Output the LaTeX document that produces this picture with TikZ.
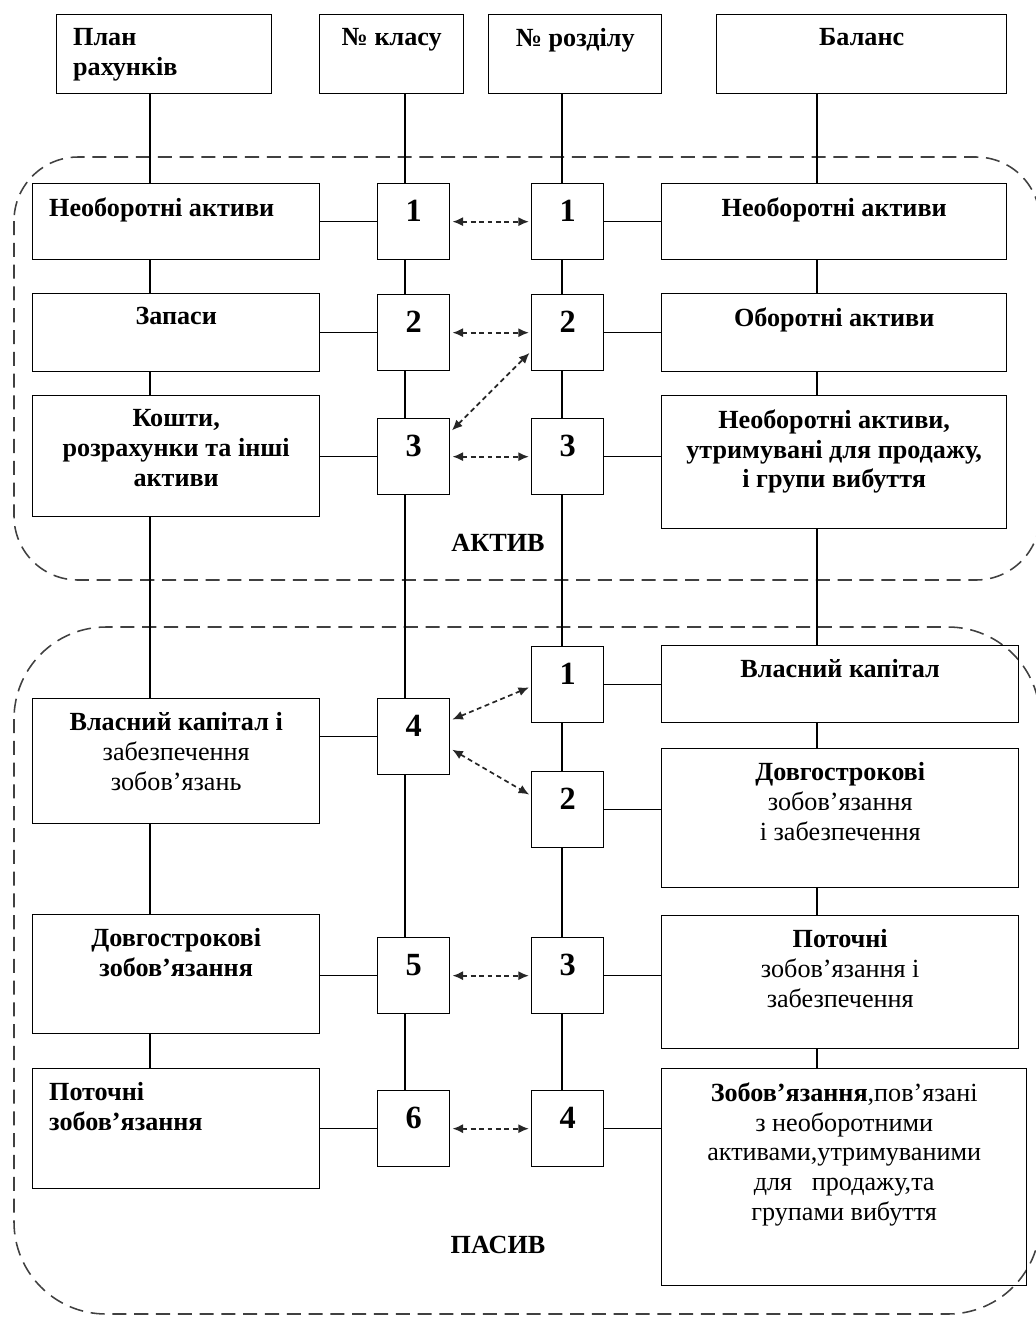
\documentclass[tikz,border=0pt]{standalone}
\usepackage{fontspec}
\setmainfont{Liberation Serif}
\usetikzlibrary{positioning,arrows.meta}
\newcommand{\pxu}{0.025cm}

\begin{document}
\begin{tikzpicture}[x=0.025cm,y=-0.025cm,
    box/.style={draw, line width=1pt, anchor=north west, inner sep=0pt},
    num/.style={box, minimum width=72*\pxu, text height=27pt, text depth=27pt,
      font=\fontsize{23}{26}\selectfont\bfseries},
    txt/.style={inner sep=0pt, align=center, font=\fontsize{18.6}{21.3}\selectfont\bfseries},
    line/.style={line width=1pt},
    group/.style={line width=1.1pt, black!75, dash pattern=on 10pt off 5.5pt},
    darr/.style={<->, >={Latex[length=7.5pt,width=6.5pt]}, line width=1.2pt, black!85,
      dash pattern=on 3.5pt off 2.5pt, shorten <=1.5pt, shorten >=1.5pt}]
    \useasboundingbox (0,0) rectangle (1036,1317);

    % AKTIV / PASYV groups
    \draw[group, rounded corners=1.6cm] (14,157) rectangle (1040,580);
    \draw[group, rounded corners=2.3cm] (14,627) rectangle (1040,1314);
    \node[txt] (aktiv) at (498,543) {АКТИВ};
    \node[txt] (pasyv) at (498,1245) {ПАСИВ};

    % headers
    \node[box, minimum width=215*\pxu, minimum height=79*\pxu] (hplan) at (56,14) {};
    \node[txt, align=left, below right=10pt and 12pt of hplan.north west] (hplant) {План\\рахунків};
    \node[box, minimum width=144*\pxu, minimum height=79*\pxu] (hclass) at (319,14) {};
    \node[txt, below=10pt of hclass.north] (hclasst) {№ класу};
    \node[box, minimum width=173*\pxu, minimum height=79*\pxu] (hsect) at (488,14) {};
    \node[txt, below=10pt of hsect.north] (hsectt) {№ розділу};
    \node[box, minimum width=290*\pxu, minimum height=79*\pxu] (hbal) at (716,14) {};
    \node[txt, below=10pt of hbal.north] (hbalt) {Баланс};

    % plan of accounts
    \node[box, minimum width=287*\pxu, minimum height=76*\pxu] (pl1) at (32,183) {};
    \node[txt, align=left, below right=10pt and 12pt of pl1.north west] (pl1t) {Необоротні активи};
    \node[box, minimum width=287*\pxu, minimum height=78*\pxu] (pl2) at (32,293) {};
    \node[txt, below=10pt of pl2.north] (pl2t) {Запаси};
    \node[box, minimum width=287*\pxu, minimum height=121*\pxu] (pl3) at (32,395) {};
    \node[txt, below=10pt of pl3.north] (pl3t) {Кошти,\\розрахунки та інші\\активи};
    \node[box, minimum width=287*\pxu, minimum height=125*\pxu] (pl4) at (32,698) {};
    \node[txt, below=10pt of pl4.north] (pl4t) {Власний капітал і\\\mdseries забезпечення\\\mdseries зобов’язань};
    \node[box, minimum width=287*\pxu, minimum height=119*\pxu] (pl5) at (32,914) {};
    \node[txt, below=10pt of pl5.north] (pl5t) {Довгострокові\\зобов’язання};
    \node[box, minimum width=287*\pxu, minimum height=120*\pxu] (pl6) at (32,1068) {};
    \node[txt, align=left, below right=10pt and 12pt of pl6.north west] (pl6t) {Поточні\\зобов’язання};

    % class numbers
    \node[num] (k1) at (377,183) {1};
    \node[num] (k2) at (377,294) {2};
    \node[num] (k3) at (377,418) {3};
    \node[num] (k4) at (377,698) {4};
    \node[num] (k5) at (377,937) {5};
    \node[num] (k6) at (377,1090) {6};

    % section numbers
    \node[num] (a1) at (531,183) {1};
    \node[num] (a2) at (531,294) {2};
    \node[num] (a3) at (531,418) {3};
    \node[num] (p1) at (531,646) {1};
    \node[num] (p2) at (531,771) {2};
    \node[num] (p3) at (531,937) {3};
    \node[num] (p4) at (531,1090) {4};

    % balance
    \node[box, minimum width=345*\pxu, minimum height=76*\pxu] (bl1) at (661,183) {};
    \node[txt, below=10pt of bl1.north] (bl1t) {Необоротні активи};
    \node[box, minimum width=345*\pxu, minimum height=78*\pxu] (bl2) at (661,293) {};
    \node[txt, below=10pt of bl2.north] (bl2t) {Оборотні активи};
    \node[box, minimum width=345*\pxu, minimum height=133*\pxu] (bl3) at (661,395) {};
    \node[txt, below=10pt of bl3.north] (bl3t) {Необоротні активи,\\утримувані для продажу,\\і групи вибуття};
    \node[box, minimum width=357*\pxu, minimum height=77*\pxu] (bl4) at (661,645) {};
    \node[txt, below=10pt of bl4.north] (bl4t) {Власний капітал};
    \node[box, minimum width=357*\pxu, minimum height=139*\pxu] (bl5) at (661,748) {};
    \node[txt, below=10pt of bl5.north] (bl5t) {Довгострокові\\\mdseries зобов’язання\\\mdseries і забезпечення};
    \node[box, minimum width=357*\pxu, minimum height=133*\pxu] (bl6) at (661,915) {};
    \node[txt, below=10pt of bl6.north] (bl6t) {Поточні\\\mdseries зобов’язання і\\\mdseries забезпечення};
    \node[box, minimum width=365*\pxu, minimum height=217*\pxu] (bl7) at (661,1068) {};
    \node[txt, below=10pt of bl7.north] (bl7t) {Зобов’язання\mdseries,пов’язані\\\mdseries з необоротними\\\mdseries активами,утримуваними\\\mdseries для~~~продажу,та\\\mdseries групами вибуття};

    % vertical lines
    \coordinate (colL) at (150,0);
    \coordinate (colK) at (405,0);
    \coordinate (colS) at (562,0);
    \coordinate (colB) at (817,0);
    \draw[line] (hplan.south -| colL) -- (pl1.north -| colL)
      (pl1.south -| colL) -- (pl2.north -| colL)
      (pl2.south -| colL) -- (pl3.north -| colL)
      (pl3.south -| colL) -- (pl4.north -| colL)
      (pl4.south -| colL) -- (pl5.north -| colL)
      (pl5.south -| colL) -- (pl6.north -| colL);
    \draw[line] (hclass.south -| colK) -- (k1.north -| colK)
      (k1.south -| colK) -- (k2.north -| colK)
      (k2.south -| colK) -- (k3.north -| colK)
      (k3.south -| colK) -- (k4.north -| colK)
      (k4.south -| colK) -- (k5.north -| colK)
      (k5.south -| colK) -- (k6.north -| colK);
    \draw[line] (hsect.south -| colS) -- (a1.north -| colS)
      (a1.south -| colS) -- (a2.north -| colS)
      (a2.south -| colS) -- (a3.north -| colS)
      (a3.south -| colS) -- (p1.north -| colS)
      (p1.south -| colS) -- (p2.north -| colS)
      (p2.south -| colS) -- (p3.north -| colS)
      (p3.south -| colS) -- (p4.north -| colS);
    \draw[line] (hbal.south -| colB) -- (bl1.north -| colB)
      (bl1.south -| colB) -- (bl2.north -| colB)
      (bl2.south -| colB) -- (bl3.north -| colB)
      (bl3.south -| colB) -- (bl4.north -| colB)
      (bl4.south -| colB) -- (bl5.north -| colB)
      (bl5.south -| colB) -- (bl6.north -| colB)
      (bl6.south -| colB) -- (bl7.north -| colB);

    % horizontal lines
    \draw[line] (pl1.east |- k1) -- (k1.west);
    \draw[line] (pl2.east |- k2) -- (k2.west);
    \draw[line] (pl3.east |- k3) -- (k3.west);
    \draw[line] (pl4.east |- k4) -- (k4.west);
    \draw[line] (pl5.east |- k5) -- (k5.west);
    \draw[line] (pl6.east |- k6) -- (k6.west);
    \draw[line] (a1.east) -- (a1.east -| bl1.west);
    \draw[line] (a2.east) -- (a2.east -| bl2.west);
    \draw[line] (a3.east) -- (a3.east -| bl3.west);
    \draw[line] (p1.east) -- (p1.east -| bl4.west);
    \draw[line] (p2.east) -- (p2.east -| bl5.west);
    \draw[line] (p3.east) -- (p3.east -| bl6.west);
    \draw[line] (p4.east) -- (p4.east -| bl7.west);

    % class <-> section
    \draw[darr] (k1.east) -- (a1.west);
    \draw[darr] (k2.east) -- (a2.west);
    \draw[darr] (k3.34) -- (a2.207);
    \draw[darr] (k3.east) -- (a3.west);
    \draw[darr] (k4.24) -- (p1.183);
    \draw[darr] (k4.342) -- (p2.159);
    \draw[darr] (k5.east) -- (p3.west);
    \draw[darr] (k6.east) -- (p4.west);
\end{tikzpicture}
\end{document}
